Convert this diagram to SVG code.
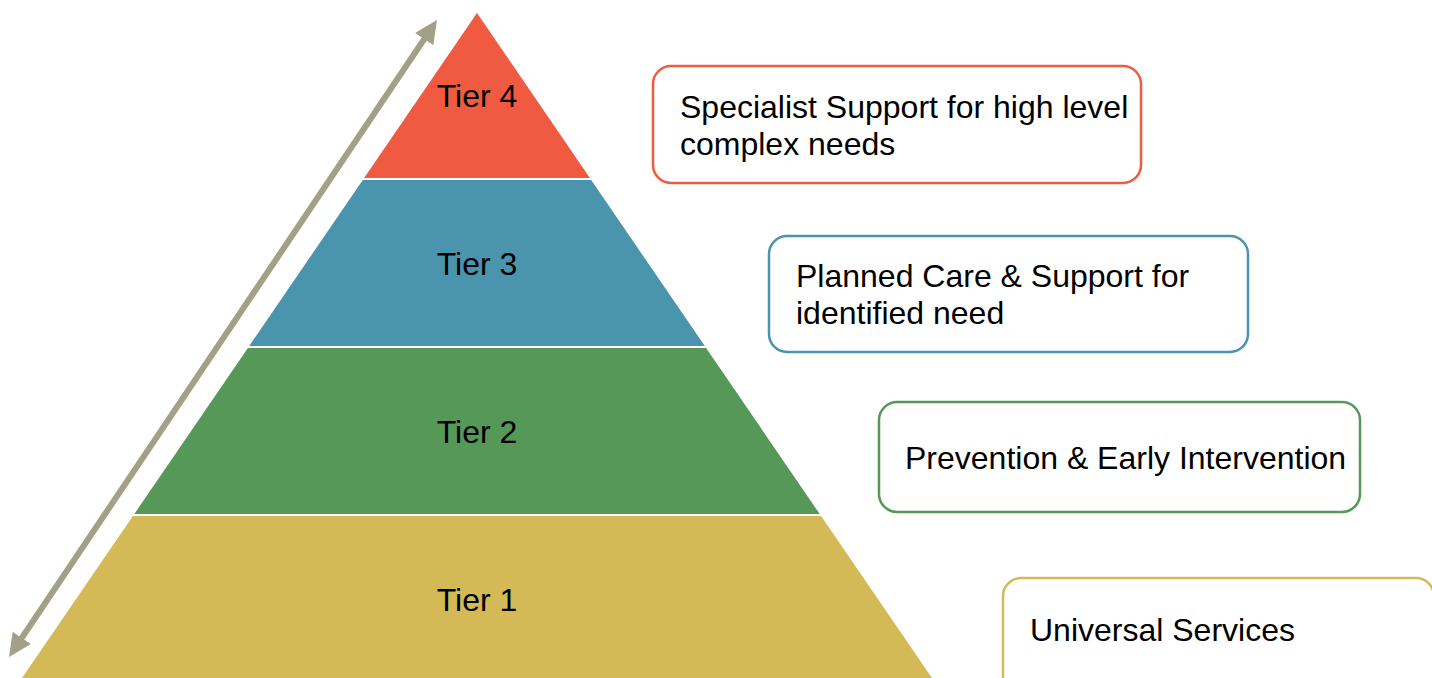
<svg xmlns="http://www.w3.org/2000/svg" width="1432" height="678" viewBox="0 0 1432 678">
<style>
.lbl{font-family:"Liberation Sans",Arial,sans-serif;font-size:32px;fill:#000}
.mid{text-anchor:middle}
.box{fill:#fff;stroke-width:2.5}
</style>
<defs>
<marker id="ah" markerUnits="userSpaceOnUse" markerWidth="23" markerHeight="22" refX="11" refY="11" orient="auto-start-reverse">
<path d="M0,0 L23,11 L0,22 z" fill="#A2A086"/>
</marker>
</defs>
<rect width="1432" height="678" fill="#fff"/>
<g id="tier4">
<polygon points="477,13 589.9,178 364.1,178" fill="#F05A40"/>
<text class="lbl mid" x="477" y="107">Tier 4</text>
</g>
<g id="tier3">
<polygon points="362.8,180 591.2,180 704.8,346 249.2,346" fill="#4A94AD"/>
<text class="lbl mid" x="477" y="275">Tier 3</text>
</g>
<g id="tier2">
<polygon points="247.9,348 706.1,348 819.7,514 134.3,514" fill="#569857"/>
<text class="lbl mid" x="477" y="443">Tier 2</text>
</g>
<g id="tier1">
<polygon points="132.9,516 821.1,516 932,678 22,678" fill="#D3BA57"/>
<text class="lbl mid" x="477" y="611">Tier 1</text>
</g>
<g id="box4">
<rect class="box" x="653" y="66" width="488" height="117" rx="18" stroke="#F05A40"/>
<text class="lbl" x="680" y="118">Specialist Support for high level</text>
<text class="lbl" x="680" y="155">complex needs</text>
</g>
<g id="box3">
<rect class="box" x="769" y="236" width="479" height="116" rx="18" stroke="#4A94AD"/>
<text class="lbl" x="796" y="287">Planned Care &amp; Support for</text>
<text class="lbl" x="796" y="324">identified need</text>
</g>
<g id="box2">
<rect class="box" x="879" y="402" width="481" height="110" rx="18" stroke="#569857"/>
<text class="lbl" x="905" y="469">Prevention &amp; Early Intervention</text>
</g>
<g id="box1">
<rect class="box" x="1003" y="578" width="431" height="130" rx="18" stroke="#D3BA57"/>
<text class="lbl" x="1030" y="641">Universal Services</text>
</g>
<g id="connectors">
<line x1="15.7" y1="647" x2="430.3" y2="30" stroke="#A2A086" stroke-width="6" marker-start="url(#ah)" marker-end="url(#ah)"/>
</g>
</svg>
